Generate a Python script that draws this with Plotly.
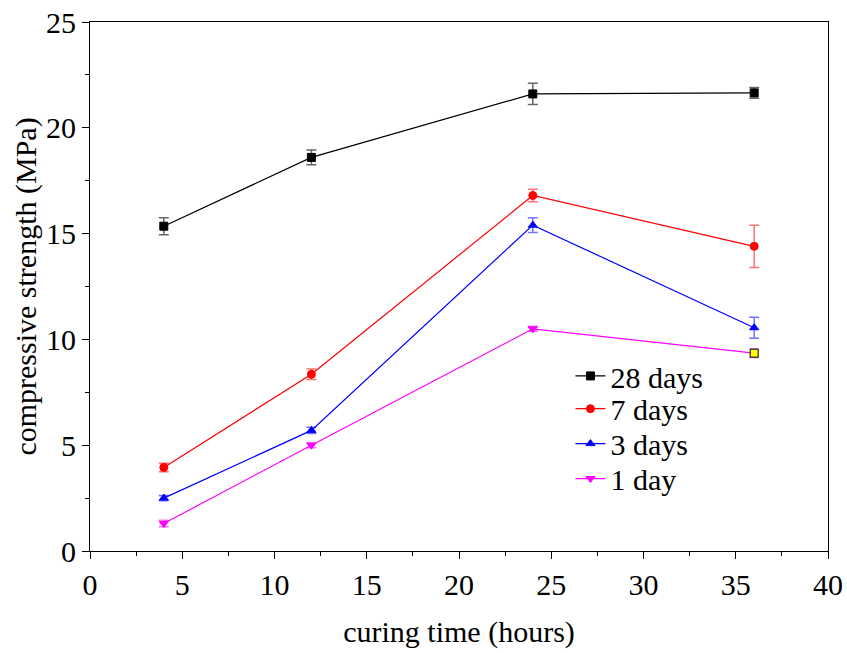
import plotly.graph_objects as go

curing_time = [4, 12, 24, 36]
s28 = [15.35, 18.6, 21.6, 21.65]
e28 = [0.4, 0.35, 0.5, 0.25]
s7 = [3.95, 8.35, 16.8, 14.4]
e7 = [0.2, 0.25, 0.3, 1.0]
s3 = [2.5, 5.7, 15.4, 10.55]
e3 = [0.12, 0.15, 0.35, 0.5]
s1 = [1.3, 5.0, 10.5, 9.35]
e1 = [0.15, 0.12, 0.12, 0.2]

series = [
    ("28 days", s28, e28, "black", "square", "rgba(0,0,0,0.6)", "legend"),
    ("7 days", s7, e7, "red", "circle", "rgba(255,0,0,0.55)", "legend2"),
    ("3 days", s3, e3, "blue", "triangle-up", "rgba(0,0,255,0.55)", "legend3"),
    ("1 day", s1, e1, "magenta", "triangle-down", "rgba(255,0,255,0.55)", "legend4"),
]

fig = go.Figure()
for name, ys, es, col, sym, ecol, leg in series:
    symbols = [sym] * len(ys)
    colors = [col] * len(ys)
    lcolors = [col] * len(ys)
    if name == "1 day":
        symbols[-1] = "square"
        colors[-1] = "yellow"
        lcolors[-1] = "black"
    fig.add_trace(go.Scatter(
        x=curing_time, y=ys, name=name, mode="lines+markers",
        line=dict(color=col, width=1.2),
        marker=dict(symbol=symbols, color=colors, size=8,
                    line=dict(color=lcolors, width=1)),
        error_y=dict(type="data", array=es, visible=True, color=ecol,
                     thickness=1.5, width=5),
        legend=leg,
    ))

font = "Liberation Serif"
fs = 30
leg_x = 0.651
leg_rows = [0.331, 0.269, 0.203, 0.137]
legend_common = dict(x=leg_x, xanchor="left", yanchor="middle",
                     bgcolor="rgba(0,0,0,0)", font=dict(family=font, size=fs))
fig.update_layout(
    width=847, height=653,
    margin=dict(l=90, r=19, t=22, b=102),
    paper_bgcolor="white", plot_bgcolor="white",
    font=dict(family=font, size=fs, color="black"),
    showlegend=True,
    legend=dict(y=leg_rows[0], **legend_common),
    legend2=dict(y=leg_rows[1], **legend_common),
    legend3=dict(y=leg_rows[2], **legend_common),
    legend4=dict(y=leg_rows[3], **legend_common),
)
axis_common = dict(
    showgrid=False, zeroline=False, automargin=False,
    showline=True, linecolor="black", linewidth=1.2, mirror=True,
    ticks="outside", ticklen=7, tickwidth=1.2, tickcolor="black",
    tickfont=dict(family=font, size=fs),
)
fig.update_xaxes(
    range=[0, 40], dtick=5,
    minor=dict(ticks="outside", ticklen=4, dtick=2.5, tickcolor="black", tickwidth=1.2),
    title=dict(text="curing time (hours)", font=dict(family=font, size=fs), standoff=20),
    **axis_common,
)
fig.update_yaxes(
    range=[0, 25], dtick=5,
    minor=dict(ticks="outside", ticklen=4, dtick=2.5, tickcolor="black", tickwidth=1.2),
    title=dict(text="compressive strength (MPa)", font=dict(family=font, size=fs), standoff=0),
    **axis_common,
)
fig.write_html("out.html")
